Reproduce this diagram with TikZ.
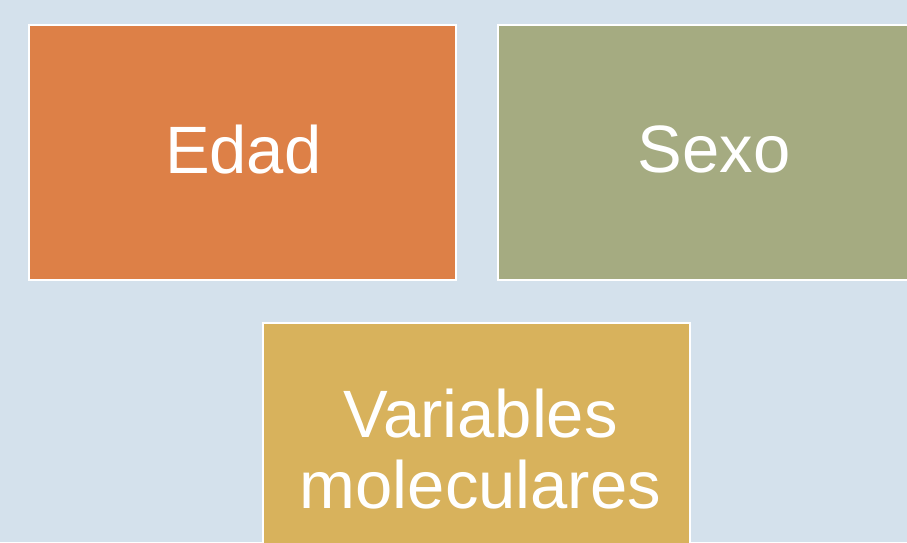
\documentclass[tikz,border=0pt]{standalone}
\usepackage{fontspec}
\setmainfont{Liberation Sans}
\definecolor{bgblue}{HTML}{D4E1EC}
\definecolor{tileorange}{HTML}{DD8047}
\definecolor{tilegreen}{HTML}{A5AB81}
\definecolor{tilegold}{HTML}{D8B25C}
\begin{document}
\begin{tikzpicture}[x=1pt,y=-1pt,
  tile/.style={draw=white, line width=2pt, minimum width=426.5pt,
    minimum height=255pt, inner sep=0pt, outer sep=0pt},
  label/.style={text=white, align=center, inner sep=0pt,
    font=\fontsize{67}{71}\selectfont}]
  \useasboundingbox (0,0) rectangle (907,542);
  \clip (0,0) rectangle (907,542);
  \fill[bgblue] (0,0) rectangle (907,542);
  % top row
  \node[tile, fill=tileorange] (edad) at (242.25,152.5) {};
  \node[tile, fill=tilegreen] (sexo) at (711.25,152.5) {};
  % bottom tile
  \node[tile, fill=tilegold] (vars) at (476.5,450.5) {};
  \node[label] (edadt) at ([xshift=1pt,yshift=3pt]edad.center) {Edad};
  \node[label] (sexot) at ([xshift=3pt,yshift=3pt]sexo.center) {Sexo};
  \node[label] (varst) at ([xshift=4pt,yshift=1pt]vars.center) {Variables\\moleculares};
\end{tikzpicture}
\end{document}
